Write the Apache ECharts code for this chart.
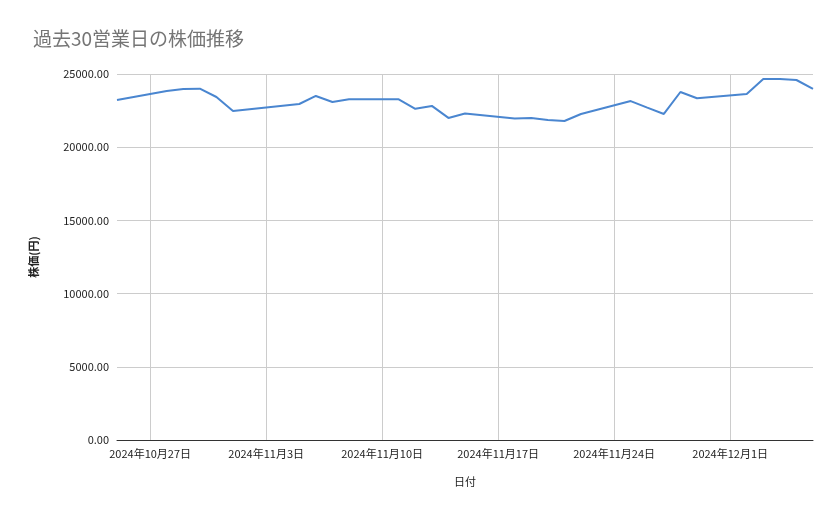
<!DOCTYPE html>
<html><head><meta charset="utf-8">
<script src="https://cdn.jsdelivr.net/npm/echarts@6/dist/echarts.min.js"></script>
<style>html,body{margin:0;padding:0;background:#fff}#c{width:839px;height:519px}</style>
</head><body><div id="c"></div>
<script>
// day offsets from 2024-10-27 (business days, Nov 4 holiday)
const dayOffsets = [-2,1,2,3,4,5,9,10,11,12,15,16,17,18,19,22,23,24,25,26,29,30,31,32,33,36,37,38,39,40];
const prices = [23220,23840,23980,24000,23430,22470,22950,23500,23090,23270,23270,22620,22820,22000,22300,21960,22000,21860,21790,22270,23150,22700,22270,23770,23340,23630,24660,24660,24590,23980];
const tickOffsets = [0,7,14,21,28,35];
const tickLabels = ['2024年10月27日','2024年11月3日','2024年11月10日','2024年11月17日','2024年11月24日','2024年12月1日'];
const font = '"Noto Sans CJK JP", Roboto, sans-serif';
const chart = echarts.init(document.getElementById('c'));
chart.setOption({
  animation:false,
  textStyle:{fontFamily:font},
  title:{text:'過去30営業日の株価推移',left:28,top:24,textStyle:{fontSize:19,fontWeight:'normal',color:'#757575',fontFamily:font}},
  grid:{left:117,right:26,top:74,bottom:79},
  xAxis:{type:'value',min:-2,max:40,
    name:'日付',nameLocation:'middle',nameGap:36,nameTextStyle:{fontSize:11,color:'#222'},
    axisLine:{show:true,lineStyle:{color:'#333'}},axisTick:{show:false,customValues:tickOffsets},
    axisLabel:{customValues:tickOffsets,fontSize:11,color:'#222',formatter:v=>tickLabels[tickOffsets.indexOf(v)]||''},
    splitLine:{show:true,lineStyle:{color:'#ccc'}}},
  yAxis:{type:'value',min:0,max:25000,interval:5000,
    name:'株価(円)',nameLocation:'middle',nameGap:78,nameTextStyle:{fontSize:11,color:'#222',fontWeight:'bold'},
    axisLine:{show:false},axisTick:{show:false},
    axisLabel:{fontSize:11,color:'#222',formatter:v=>v.toFixed(2)},
    splitLine:{lineStyle:{color:'#ccc'}}},
  series:[{type:'line',data:dayOffsets.map((d,i)=>[d,prices[i]]),
    showSymbol:false,lineStyle:{color:'#4a86d0',width:2},itemStyle:{color:'#4a86d0'}}]
});
</script></body></html>
